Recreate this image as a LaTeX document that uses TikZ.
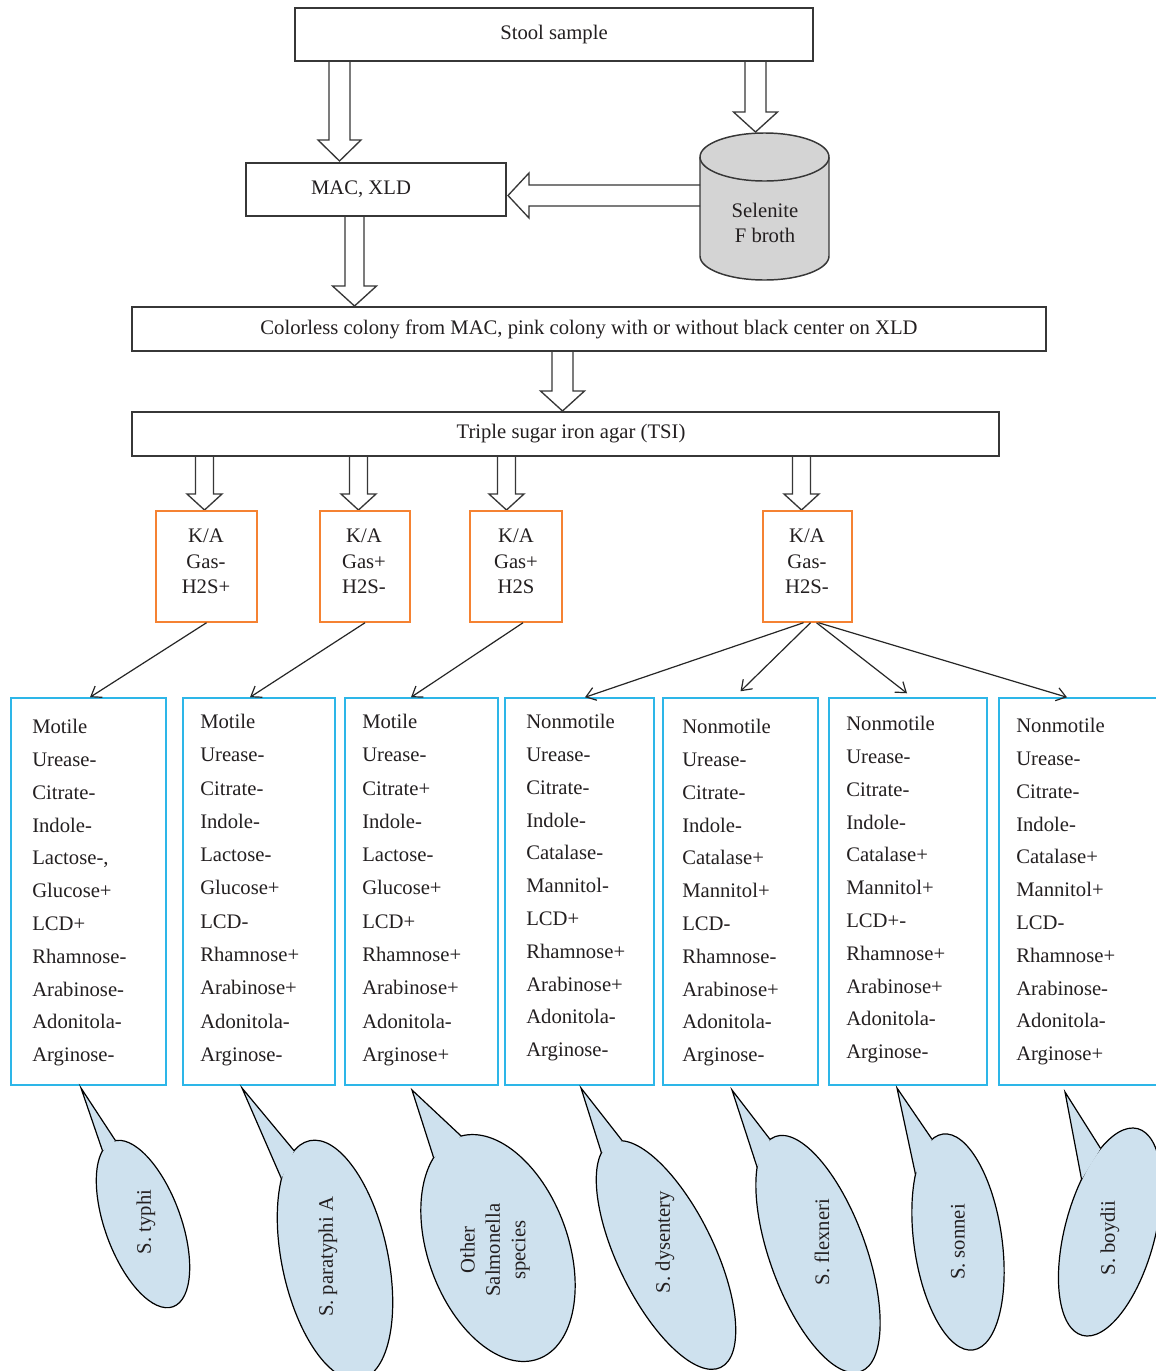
\documentclass[tikz,border=0pt]{standalone}
\usepackage{fontspec}
\setmainfont{Liberation Serif}
\usetikzlibrary{arrows.meta,calc}
\newlength\px \setlength\px{0.75pt}
\definecolor{boxgray}{RGB}{55,55,55}
\definecolor{kaorange}{RGB}{245,130,50}
\definecolor{listcyan}{RGB}{45,182,232}
\definecolor{calloutblue}{RGB}{206,225,238}
\definecolor{cylgray}{RGB}{212,212,212}
\definecolor{textcol}{RGB}{35,31,32}
\newcommand\blockdown[6]{\draw[harrow] (#1-#4,#2) -- (#1-#4,#3-#6) -- (#1-#5,#3-#6) -- (#1,#3) -- (#1+#5,#3-#6) -- (#1+#4,#3-#6) -- (#1+#4,#2);}
\newcommand\bubble[8]{%
  \coordinate (#1tip) at #8;
  \begin{scope}[shift={#2}, rotate=#3]
    \draw[bubbleshape] (0,0) ellipse [x radius=#4, y radius=#5];
    \coordinate (#1a) at (#6:#4 and #5);
    \coordinate (#1b) at (#7:#4 and #5);
  \end{scope}
  \fill[calloutblue] (#1tip) -- (#1a) -- (#1b) -- cycle;
  \draw[bubbleline] (#1a) -- (#1tip) -- (#1b);
}
\begin{document}
\begin{tikzpicture}[x=0.75pt,y=-0.75pt,
  font=\fontsize{15.5}{19}\selectfont, text=textcol,
  box/.style={draw=boxgray, line width=1.1pt, inner sep=0pt},
  kabox/.style={draw=kaorange, line width=1.1pt, inner sep=0pt, minimum width=#1\px, minimum height=111\px},
  listbox/.style={draw=listcyan, line width=1.1pt, inner sep=0pt, minimum height=387\px, minimum width=#1\px},
  listtext/.style={anchor=north west, align=left, inner sep=0pt, font=\fontsize{15.5}{24.6}\selectfont},
  widetext/.style={listtext, font=\fontsize{15.5}{24.95}\selectfont},
  katext/.style={anchor=north, align=center, inner sep=0pt, font=\fontsize{15.5}{19.1}\selectfont},
  harrow/.style={draw=boxgray, line width=1pt, line join=miter},
  thinarrow/.style={draw=black!85, line width=0.9pt, -{Straight Barb[length=7pt,width=10pt]}},
  bubbleshape/.style={fill=calloutblue, draw=black, line width=0.9pt},
  bubbleline/.style={draw=black, line width=0.9pt, line join=miter},
  bubbletext/.style={rotate=90, align=center, inner sep=0pt}
]
\useasboundingbox (0,0) rectangle (1156,1371);
\fill[white] (0,0) rectangle (1156,1371);
\clip (0,0) rectangle (1156,1371);

% top boxes
\node[box, minimum width=518\px, minimum height=53\px] (stool) at (554,34.5) {};
\node[inner sep=0pt] (stooltext) at (554,35) {Stool sample};
\node[box, minimum width=260\px, minimum height=53\px] (mac) at (376,189.5) {};
\node[inner sep=0pt] (mactext) at (361,189) {MAC, XLD};
\node[box, minimum width=914\px, minimum height=44\px] (colorless) at (589,329) {Colorless colony from MAC, pink colony with or without black center on XLD};
\node[box, minimum width=867\px, minimum height=44\px] (tsi) at (565.5,434) {};
\node[inner sep=0pt] (tsitext) at (571,434) {Triple sugar iron agar (TSI)};

% cylinder
\fill[cylgray] (700,157) rectangle (829,256);
\fill[cylgray] (764.5,256) ellipse [x radius=64.5, y radius=24];
\draw[boxgray, line width=1.1pt] (700,157) -- (700,256) arc[start angle=180, end angle=0, x radius=64.5, y radius=24] -- (829,157);
\draw[fill=cylgray, draw=boxgray, line width=1.1pt] (764.5,157) ellipse [x radius=64.5, y radius=24];
\node[align=center, inner sep=0pt] (sel) at (765,223) {Selenite\\F broth};

% block arrows
\blockdown{339.5}{61}{161}{10.5}{21.5}{21}
\blockdown{755.5}{61}{132}{10.5}{22}{20}
\blockdown{354.5}{216}{306}{9.5}{22}{20}
\blockdown{562.5}{351}{411}{10.5}{22}{20}
\blockdown{204.5}{456}{510}{9}{17.5}{16}
\blockdown{358.5}{456}{510}{9}{17.5}{16}
\blockdown{506.5}{456}{510}{9}{17.5}{16}
\blockdown{801.5}{456}{510}{9}{17.5}{16}
\draw[harrow] (700,185) -- (529,185) -- (529,173) -- (508,195.5) -- (529,218) -- (529,206) -- (700,206);

% K/A boxes
\node[kabox=101] (ka1) at (206.5,566.5) {};
\node[kabox=90] (ka2) at (365,566.5) {};
\node[kabox=92] (ka3) at (516,566.5) {};
\node[kabox=89] (ka4) at (807.5,566.5) {};
\node[katext] (ka1t) at (206,529) {K/A\\Gas-\\H2S+};
\node[katext] (ka2t) at (364,529) {K/A\\Gas+\\H2S-};
\node[katext] (ka3t) at (516,529) {K/A\\Gas+\\H2S};
\node[katext] (ka4t) at (807,529) {K/A\\Gas-\\H2S-};

% list boxes
\node[listbox=155] (l1) at (88.5,891.5) {};
\node[listbox=152] (l2) at (259,891.5) {};
\node[listbox=153] (l3) at (421.5,891.5) {};
\node[listbox=149] (l4) at (579.5,891.5) {};
\node[listbox=155] (l5) at (740.5,891.5) {};
\node[listbox=158] (l6) at (908,891.5) {};
\node[listbox=161] (l7) at (1079.5,891.5) {};

\node[listtext] (l1t) at (32,719) {Motile\\Urease-\\Citrate-\\Indole-\\Lactose-,\\Glucose+\\LCD+\\Rhamnose-\\Arabinose-\\Adonitola-\\Arginose-};
\node[widetext] (l2t) at (200,714) {Motile\\Urease-\\Citrate-\\Indole-\\Lactose-\\Glucose+\\LCD-\\Rhamnose+\\Arabinose+\\Adonitola-\\Arginose-};
\node[widetext] (l3t) at (362,714) {Motile\\Urease-\\Citrate+\\Indole-\\Lactose-\\Glucose+\\LCD+\\Rhamnose+\\Arabinose+\\Adonitola-\\Arginose+};
\node[listtext] (l4t) at (526,714) {Nonmotile\\Urease-\\Citrate-\\Indole-\\Catalase-\\Mannitol-\\LCD+\\Rhamnose+\\Arabinose+\\Adonitola-\\Arginose-};
\node[listtext] (l5t) at (682,719) {Nonmotile\\Urease-\\Citrate-\\Indole-\\Catalase+\\Mannitol+\\LCD-\\Rhamnose-\\Arabinose+\\Adonitola-\\Arginose-};
\node[listtext] (l6t) at (846,716) {Nonmotile\\Urease-\\Citrate-\\Indole-\\Catalase+\\Mannitol+\\LCD+-\\Rhamnose+\\Arabinose+\\Adonitola-\\Arginose-};
\node[listtext] (l7t) at (1016,718) {Nonmotile\\Urease-\\Citrate-\\Indole-\\Catalase+\\Mannitol+\\LCD-\\Rhamnose+\\Arabinose-\\Adonitola-\\Arginose+};

% thin arrows
\draw[thinarrow] (ka1.south) -- ($(l1.north)+(1.5,0)$);
\draw[thinarrow] (ka2.south) -- ($(l2.north)+(-9,0)$);
\draw[thinarrow] ($(ka3.south)+(7,0)$) -- ($(l3.north)+(-10.5,0)$);
\draw[thinarrow] ($(ka4.south)+(-4,0)$) -- ($(l4.north)+(5.5,0)$);
\draw[thinarrow] ($(ka4.south)+(3,0)$) -- ($(l5.north)+(0,-6)$);
\draw[thinarrow] ($(ka4.south)+(9,0)$) -- ($(l6.north)+(-1,-4)$);
\draw[thinarrow] ($(ka4.south)+(11,0)$) -- ($(l7.north)+(-12.5,0)$);

% callouts
\bubble{c1}{(143,1224)}{20}{38}{88}{250}{274}{(81,1088)}
\bubble{c2}{(335,1260)}{12}{53}{122}{228}{251}{(242,1088)}
\bubble{c3}{(498,1248)}{20}{70}{118}{245}{273}{(412,1090)}
\bubble{c4}{(666,1255)}{26}{48}{125}{254}{283}{(581,1088)}
\bubble{c5}{(818,1254)}{20}{48}{125}{235}{263}{(732,1090)}
\bubble{c6}{(958,1242)}{8}{44}{109}{222}{255}{(897,1088)}
\bubble{c7}{(1110,1232)}{-15}{45}{107}{204}{227}{(1065,1092)}

\node[bubbletext] (c1t) at (146,1222) {S. typhi};
\node[bubbletext] (c2t) at (328,1257) {S. paratyphi A};
\node[bubbletext] (c3t) at (495,1250) {Other\\Salmonella\\species};
\node[bubbletext] (c4t) at (665,1242) {S. dysentery};
\node[bubbletext] (c5t) at (822,1242) {S. flexneri};
\node[bubbletext] (c6t) at (958,1242) {S. sonnei};
\node[bubbletext] (c7t) at (1110,1238) {S. boydii};
\end{tikzpicture}
\end{document}
